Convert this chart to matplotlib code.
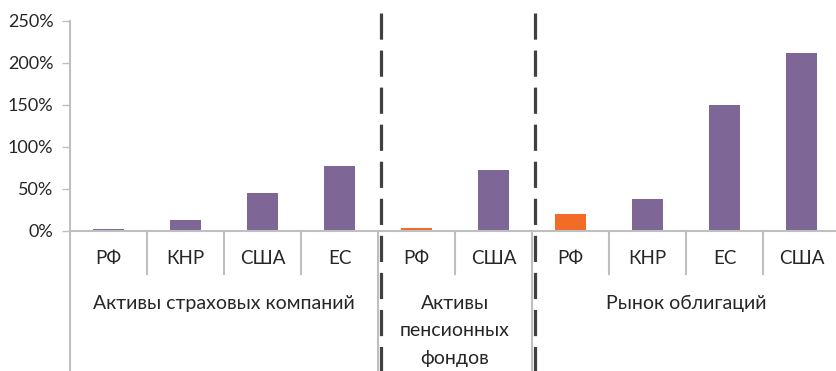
import matplotlib
matplotlib.use("Agg")
import matplotlib.pyplot as plt
import numpy as np

# Data (% of GDP)
groups = ["Активы страховых компаний", "Активы\nпенсионных\nфондов", "Рынок облигаций"]
group_categories = [
    ["РФ", "КНР", "США", "ЕС"],
    ["РФ", "США"],
    ["РФ", "КНР", "ЕС", "США"],
]
group_values = [
    [2, 13, 45, 77],
    [3, 72],
    [20, 38, 150, 212],
]
highlight = [
    [False, False, False, False],
    [True, False],
    [True, False, False, False],
]
yticks = [0, 50, 100, 150, 200, 250]

PURPLE = "#7E6796"
ORANGE = "#F26B27"
AXIS_GRAY = "#BFBFBF"
TEXT = "#262626"
DASH = "#404040"

plt.rcParams["font.family"] = ["Lato", "DejaVu Sans"]

W, H = 837, 371
fig = plt.figure(figsize=(W / 100, H / 100), dpi=100)
x0_px, x1_px = 70, 840
y0_px, y1_px = 230.5, 20.7
ax = fig.add_axes([x0_px / W, 1 - y0_px / H, (x1_px - x0_px) / W, (y0_px - y1_px) / H])

labels = [c for g in group_categories for c in g]
values = [v for g in group_values for v in g]
colors = [ORANGE if h else PURPLE for g in highlight for h in g]
x = np.arange(len(labels))

ax.bar(x, values, width=0.4, color=colors, zorder=2)
ax.set_xlim(-0.5, len(labels) - 0.5)
ax.set_ylim(0, 250)

ax.set_yticks(yticks)
ax.set_yticklabels([f"{t}%" for t in yticks], fontsize=13, color=TEXT)
ax.tick_params(axis="y", length=6, width=1, color=AXIS_GRAY, pad=6)
ax.set_xticks([])

for s in ["top", "right", "left"]:
    ax.spines[s].set_visible(False)
ax.spines["bottom"].set_color(AXIS_GRAY)
ax.spines["bottom"].set_linewidth(1.5)

tr = ax.get_xaxis_transform()
px = 1.0 / (y0_px - y1_px)           # one pixel in axes-fraction units
bottom = -(H - y0_px) * px

# left axis line running down through the label area
ax.plot([-0.5, -0.5], [bottom, 1.0], transform=tr, color=AXIS_GRAY, lw=1.5, clip_on=False)

# category labels
for xi, lab in zip(x, labels):
    ax.text(xi, -(259 - y0_px) * px, lab, transform=tr, ha="center", va="center",
            fontsize=13.5, color=TEXT)

sizes = [len(g) for g in group_categories]
bounds = np.cumsum(sizes)[:-1] - 0.5

# short separators between categories
for b in np.arange(0.5, len(labels) - 0.5):
    if b in bounds:
        continue
    ax.plot([b, b], [0, -(274 - y0_px) * px], transform=tr, color=AXIS_GRAY, lw=1.5, clip_on=False)

# group boundaries: full-height gray line plus dark dashed divider
for b in bounds:
    ax.plot([b, b], [bottom, 0], transform=tr, color=AXIS_GRAY, lw=1.5, clip_on=False)
    ax.plot([b + 0.035, b + 0.035], [1 + (y1_px - 13) * px, bottom], transform=tr,
            color=DASH, lw=2.3, dashes=(8.2, 3.4), clip_on=False, zorder=5)

# group labels
starts = np.concatenate([[0], np.cumsum(sizes)[:-1]])
for st, n, g in zip(starts, sizes, groups):
    cx = st + (n - 1) / 2
    ax.text(cx, -(295 - y0_px) * px, g, transform=tr, ha="center", va="top",
            fontsize=14, color=TEXT, linespacing=1.75)

fig.savefig("out.png", dpi=100)
